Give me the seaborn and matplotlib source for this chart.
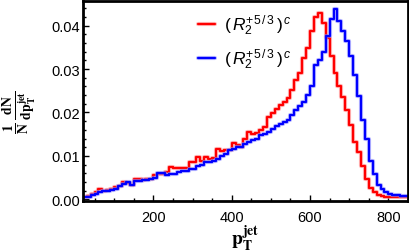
import numpy as np
import pandas as pd
import matplotlib
matplotlib.use('Agg')
import matplotlib.pyplot as plt
import matplotlib.patheffects as pe
from matplotlib.ticker import MultipleLocator, FormatStrFormatter
import seaborn as sns

# bin edges (pT jet), 10 GeV wide
edges = np.arange(20, 860, 10)

# normalised distributions, one value per bin
red_vals = [0.0006, 0.0008, 0.0012, 0.0016, 0.0023, 0.0020, 0.0021, 0.0023, 0.0029, 0.0031,
            0.0040, 0.0038, 0.0032, 0.0046, 0.0047, 0.0045, 0.0046, 0.0047, 0.0057, 0.0059,
            0.0058, 0.0062, 0.0074, 0.0073, 0.0072, 0.0071, 0.0072, 0.0085, 0.0086, 0.0097,
            0.0088, 0.0097, 0.0093, 0.0094, 0.0115, 0.0112, 0.0113, 0.0114, 0.0129, 0.0126,
            0.0121, 0.0140, 0.0155, 0.0150, 0.0153, 0.0159, 0.0167, 0.0190, 0.0198, 0.0209,
            0.0217, 0.0225, 0.0233, 0.0252, 0.0275, 0.0290, 0.0326, 0.0349, 0.0388, 0.0420,
            0.0430, 0.0407, 0.0372, 0.0330, 0.0290, 0.0260, 0.0235, 0.0205, 0.0172, 0.0132,
            0.0108, 0.0077, 0.0047, 0.0027, 0.0017, 0.0010, 0.0008, 0.0006, 0.0005, 0.0005,
            0.0004, 0.0004, 0.0004]
blue_vals = [0.0005, 0.0006, 0.0009, 0.0012, 0.0017, 0.0019, 0.0020, 0.0022, 0.0024, 0.0031,
             0.0035, 0.0039, 0.0033, 0.0042, 0.0043, 0.0045, 0.0045, 0.0046, 0.0050, 0.0060,
             0.0060, 0.0057, 0.0058, 0.0058, 0.0062, 0.0066, 0.0066, 0.0069, 0.0070, 0.0077,
             0.0078, 0.0085, 0.0085, 0.0088, 0.0093, 0.0100, 0.0105, 0.0113, 0.0115, 0.0120,
             0.0120, 0.0128, 0.0132, 0.0136, 0.0138, 0.0147, 0.0150, 0.0155, 0.0163, 0.0168,
             0.0174, 0.0178, 0.0182, 0.0194, 0.0205, 0.0215, 0.0225, 0.0240, 0.0260, 0.0310,
             0.0320, 0.0340, 0.0376, 0.0415, 0.0438, 0.0410, 0.0388, 0.0365, 0.0330, 0.0287,
             0.0237, 0.0182, 0.0140, 0.0089, 0.0058, 0.0033, 0.0023, 0.0017, 0.0013, 0.0010,
             0.0010, 0.0007, 0.0007]

labels = [r'$(\,R_2^{+5\,/\,3}\,)^{\,c}$', r'$(\,R_2^{+5\,/\,3}\,)^{\,c}$']
colors = ['#ff0000', '#0000ff']
glow = ['#ff9090', '#9090ff']

centers = (edges[:-1] + edges[1:]) / 2

sns.set_style('ticks')
plt.rcParams['font.family'] = ['Liberation Sans', 'DejaVu Sans']
plt.rcParams['mathtext.fontset'] = 'custom'
plt.rcParams['mathtext.it'] = 'Liberation Sans:italic'
plt.rcParams['mathtext.rm'] = 'Liberation Sans'
plt.rcParams['axes.edgecolor'] = 'black'
plt.rcParams['xtick.color'] = 'black'
plt.rcParams['ytick.color'] = 'black'
plt.rcParams['text.color'] = 'black'
plt.rcParams['axes.labelcolor'] = 'black'

fig = plt.figure(figsize=(4.10, 2.53), dpi=100)
ax = fig.add_axes([0.202, 0.2, 0.793, 0.792])

for vals, lab, col, gl in zip([red_vals, blue_vals], labels, colors, glow):
    sub = pd.DataFrame({'pt': centers, 'w': vals})
    sns.histplot(data=sub, x='pt', weights='w', binwidth=10, binrange=(20, 850),
                 element='step', fill=False, color=col, linewidth=1.6, ax=ax, label=lab,
                 path_effects=[pe.Stroke(linewidth=3.0, foreground=gl, alpha=0.6), pe.Normal()])

ax.set_xlim(20, 850)
ax.set_ylim(-0.0005, 0.0457)
ax.xaxis.set_major_locator(MultipleLocator(200))
ax.xaxis.set_minor_locator(MultipleLocator(50))
ax.yaxis.set_major_locator(MultipleLocator(0.01))
ax.yaxis.set_minor_locator(MultipleLocator(0.002))
ax.yaxis.set_major_formatter(FormatStrFormatter('%.2f'))
ax.tick_params(which='both', direction='in', top=False, right=False, labelsize=10.5, width=1.0)
ax.tick_params(axis='y', pad=2)
ax.tick_params(axis='x', pad=6)
ax.tick_params(which='major', length=4.3)
ax.tick_params(which='minor', length=2.2)
for s in ax.spines.values():
    s.set_linewidth(2)

ax.set_xlabel(r'$\mathbf{p_T^{jet}}$', fontsize=14, labelpad=0)
ax.set_ylabel(r'$\mathbf{\frac{1}{N}\,\frac{dN}{dp_T^{jet}}}$', fontsize=14)
ax.yaxis.set_label_coords(-0.135, 0.45)
ax.xaxis.label.set_math_fontfamily('stix')
ax.yaxis.label.set_math_fontfamily('stix')

handles, labs = ax.get_legend_handles_labels()
ax.legend(handles, labs, loc='upper left', bbox_to_anchor=(0.305, 1.02), frameon=False,
          handlelength=1.0, handletextpad=0.5, fontsize=12.5, labelspacing=0.55)

fig.savefig('out.png', dpi=100)
